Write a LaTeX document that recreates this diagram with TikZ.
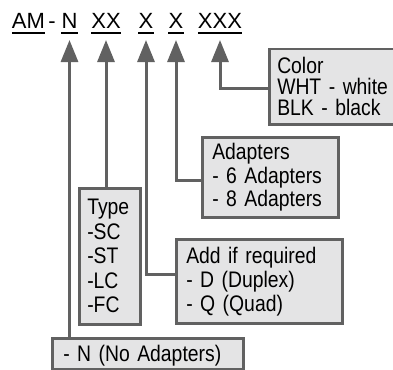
\documentclass[tikz,border=0pt]{standalone}
\usepackage{fontspec}
\setmainfont{Liberation Sans}[FakeStretch=0.86]
\newfontfamily\codefont{Liberation Sans}
\usetikzlibrary{arrows.meta}
\definecolor{linegray}{HTML}{616161}
\definecolor{boxgray}{HTML}{E4E4E5}
\tikzset{
  part/.style={anchor=base,inner sep=0pt,font=\codefont\fontsize{22}{26}\selectfont},
  infobox/.style={draw=linegray,fill=boxgray,line width=2.5pt,anchor=north west,align=left,
    inner xsep=8pt,inner ysep=0pt,font=\fontsize{22.5}{#1}\selectfont},
  feed/.style={draw=linegray,line width=3pt,-{Triangle[width=17pt,length=22pt]}},
}

\begin{document}
\begin{tikzpicture}[x=1pt,y=-1pt]
  \useasboundingbox (0,0) rectangle (393,369);
  \node[part] (am) at (28.5,29) {AM};
  \node[part] (dash) at (52,29) {-};
  \node[part] (n) at (69.5,29) {N};
  \node[part] (xx) at (106,29) {XX};
  \node[part] (xa) at (146,29) {X};
  \node[part] (xb) at (176,29) {X};
  \node[part] (xxx) at (220,29) {XXX};
  \foreach \p in {am,n,xx,xa,xb,xxx}{ \draw[line width=1.3pt] ([yshift=-4pt]\p.base west) -- ([yshift=-4pt]\p.base east); }
  \node[infobox=21.2pt,minimum width=125pt,minimum height=75pt,text width=109pt] (color) at (268,48) {Color\\\mbox{WHT - white}\\\mbox{BLK - black}};
  \node[infobox=23.5pt,minimum width=136pt,minimum height=80pt,text width=116pt,inner xsep=10pt] (adapters) at (201,136) {Adapters\\\mbox{- 6 Adapters}\\\mbox{- 8 Adapters}};
  \node[infobox=24pt,minimum width=166pt,minimum height=84pt,text width=146pt,inner xsep=10pt] (addreq) at (175,238) {\mbox{Add if required}\\\mbox{- D (Duplex)}\\\mbox{- Q (Quad)}};
  \node[infobox=24.5pt,minimum width=61pt,minimum height=136pt,text width=45pt] (type) at (78,187) {Type\\-SC\\-ST\\-LC\\-FC};
  \node[infobox=24pt,minimum width=191pt,minimum height=31pt,text width=169pt,inner xsep=11pt,text depth=0pt] (noadapt) at (51,337) {\mbox{- N (No Adapters)}};
  \draw[feed] (noadapt.north -| n.base) -- ([yshift=-11pt]n.base);
  \draw[feed] (type.north -| xx.base) -- ([yshift=-11pt]xx.base);
  \draw[feed] ([yshift=7pt]addreq.west) -| ([yshift=-11pt]xa.base);
  \draw[feed] ([yshift=-3pt]adapters.west) -| ([yshift=-11pt]xb.base);
  \draw[feed] ([yshift=-2pt]color.west) -| ([yshift=-11pt]xxx.base);
\end{tikzpicture}
\end{document}
